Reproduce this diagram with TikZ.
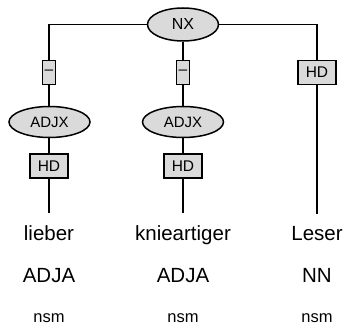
\documentclass[tikz,border=0pt]{standalone}
\usepackage{fontspec}
\setmainfont{Liberation Sans}
\usetikzlibrary{shapes.geometric}
\definecolor{nodegray}{RGB}{218,218,218}
\begin{document}
\begin{tikzpicture}[x=1pt,y=-1pt,
  cat/.style={ellipse,draw,line width=1.5pt,fill=nodegray,inner sep=0pt,font=\fontsize{15}{15}\selectfont},
  edgelab/.style={rectangle,draw,line width=1.5pt,fill=nodegray,inner sep=0pt,minimum height=24pt,font=\fontsize{15.5}{15.5}\selectfont},
  word/.style={anchor=base,inner sep=0pt,font=\fontsize{20.5}{20.5}\selectfont},
  tag/.style={anchor=base,inner sep=0pt,font=\fontsize{20.5}{20.5}\selectfont},
  morph/.style={anchor=base,inner sep=0pt,font=\fontsize{16.5}{16.5}\selectfont},
  link/.style={draw=black,line width=1.5pt}]
\useasboundingbox (0,0) rectangle (346,328);
% root
\node[cat,minimum width=71pt,minimum height=33pt,font=\fontsize{16}{16}\selectfont] (nx) at (183,24.5) {NX};
% edge labels below root
\node[edgelab,minimum width=13pt] (e1) at (49,72.5) {--};
\node[edgelab,minimum width=13pt] (e2) at (183,72.5) {--};
\node[edgelab,minimum width=38pt] (e3) at (317,72.5) {HD};
% ADJX nodes
\node[cat,minimum width=81pt,minimum height=31pt] (a1) at (49.5,122) {ADJX};
\node[cat,minimum width=81pt,minimum height=31pt] (a2) at (183,122) {ADJX};
% HD labels
\node[edgelab,minimum width=38pt] (h1) at (49,166) {HD};
\node[edgelab,minimum width=38pt] (h2) at (183,166) {HD};
% words
\node[word] (w1) at (49,241) {lieber};
\node[word] (w2) at (183,241) {knieartiger};
\node[word] (w3) at (317,241) {Leser};
\node[tag] (t1) at (49,282.5) {ADJA};
\node[tag] (t2) at (183,282.5) {ADJA};
\node[tag] (t3) at (317,282.5) {NN};
\node[morph] (m1) at (49,323) {nsm};
\node[morph] (m2) at (183,323) {nsm};
\node[morph] (m3) at (317,323) {nsm};
% connectors
\draw[link] (nx.west) -| (e1.north);
\draw[link] (nx.east) -| (e3.north);
\draw[link] (nx.south) -- (e2.north);
\draw[link] (e1.south) -- (a1.north -| e1.south);
\draw[link] (e2.south) -- (a2.north);
\draw[link] (a1.south -| h1.north) -- (h1.north);
\draw[link] (a2.south) -- (h2.north);
\draw[link,shorten >=13pt] (h1.south) -- (w1.north);
\draw[link,shorten >=13pt] (h2.south) -- (w2.north);
\draw[link,shorten >=13pt] (e3.south) -- (w3.north);
\end{tikzpicture}
\end{document}
